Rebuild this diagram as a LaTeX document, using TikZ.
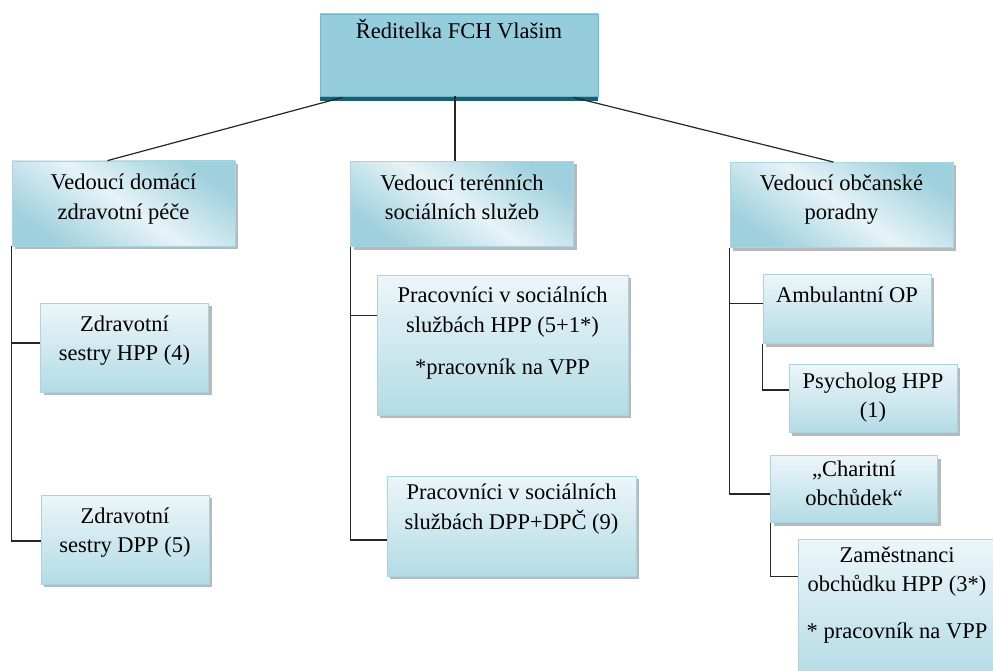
\documentclass[tikz,border=0pt]{standalone}
\usepackage{fontspec}
\setmainfont{Liberation Serif}
\usetikzlibrary{shadows}
\definecolor{hdark}{HTML}{9FD0DD}
\definecolor{hlight}{HTML}{E6F3F7}
\definecolor{hbord}{HTML}{A8D5E0}
\definecolor{stop}{HTML}{ECF6F9}
\definecolor{sbot}{HTML}{B3DBE5}
\definecolor{sbord}{HTML}{A8D5E0}
\definecolor{ttop}{HTML}{96CDDC}
\definecolor{tmid}{HTML}{3FA2C0}
\definecolor{tbord}{HTML}{6ABBD0}
\definecolor{tstrip}{HTML}{215E6C}
\newcommand\fsz{\fontsize{22.5}{29.5}\selectfont}
\newcommand\dn[1]{\rule[\dimexpr-8.85pt-#1pt\relax]{0pt}{1pt}}
\tikzset{
  boxbase/.style={inner sep=0pt, align=center, font=\fsz, text=black,
    drop shadow={shadow xshift=3pt, shadow yshift=-3pt, fill=black!50, opacity=0.55}},
  head/.style={boxbase, draw=hbord, line width=0.8pt, top color=hdark, bottom color=hdark,
    middle color=hlight, shading angle=-35, minimum width=223pt, minimum height=85pt},
  sub/.style={boxbase, draw=sbord, line width=0.8pt, top color=stop, bottom color=sbot},
  topbox/.style={inner sep=0pt, align=center, font=\fsz, text=black, draw=tbord, line width=0.8pt,
    top color=ttop, middle color=tmid, bottom color=ttop, minimum width=278pt, minimum height=82pt},
  conn/.style={draw=black!85, line width=1.2pt}
}
\begin{document}
\begin{tikzpicture}[x=1pt, y=-1pt]
\clip (0,0) rectangle (993,671);
\fill[white] (0,0) rectangle (993,671);
% top
\fill[tstrip] (320,93) rectangle (598,101);
\node[topbox] (t) at (459,55) {\strut Ředitelka FCH Vlašim\dn{44}};
% heads
\node[head] (l1) at (123.5,203.5) {\strut Vedoucí domácí\\zdravotní péče\dn{10}};
\node[head] (m1) at (462,204) {\strut Vedoucí terénních\\sociálních služeb\dn{10}};
\node[head] (r1) at (841.5,205) {\strut Vedoucí občanské\\poradny\dn{12}};
% left column
\node[sub, minimum width=168pt, minimum height=89pt] (l2) at (124.5,347.5) {\strut Zdravotní\\sestry HPP (4)\dn{15}};
\node[sub, minimum width=168pt, minimum height=89pt] (l3) at (125,539.5) {\strut Zdravotní\\sestry DPP (5)\dn{15}};
% middle column
\node[sub, minimum width=251pt, minimum height=140pt] (m2) at (502.5,345) {\strut Pracovníci v sociálních\\službách HPP (5+1*)\\[13pt]*pracovník na VPP\dn{24}};
\node[sub, minimum width=249pt, minimum height=100pt] (m3) at (511.5,526) {\strut Pracovníci v sociálních\\službách DPP+DPČ (9)\dn{35}};
% right column
\node[sub, minimum width=168pt, minimum height=69pt] (r2) at (847,309) {\strut Ambulantní OP\dn{25}};
\node[sub, minimum width=168pt, minimum height=68pt] (r3) at (873,398.5) {\strut Psycholog HPP\\(1)\dn{3}};
\node[sub, minimum width=167pt, minimum height=66pt] (r4) at (854,489) {\strut „Charitní\\obchůdek“\dn{8}};
\node[sub, minimum width=198pt, minimum height=142pt] (r5) at (897,610) {\strut Zaměstnanci\\obchůdku HPP (3*)\\[17pt]* pracovník na VPP\dn{31}};
% connectors from top
\draw[conn] ([xshift=23pt,yshift=-1pt]t.south west) -- ([xshift=-16pt]l1.north);
\draw[conn] ([xshift=-4pt]t.south) -- ([xshift=-4pt]t.south |- m1.north);
\draw[conn] ([xshift=-25pt,yshift=-1pt]t.south east) -- ([xshift=-8pt]r1.north);
% left
\draw[conn] (l1.south west) |- ([yshift=4.5pt]l2.west);
\draw[conn] (l1.south west) |- ([yshift=-1.5pt]l3.west);
% middle
\draw[conn] (m1.south west) |- ([yshift=29.5pt]m2.west);
\draw[conn] (m1.south west) |- ([yshift=-14pt]m3.west);
% right
\draw[conn] (r1.south west) |- ([yshift=5.5pt]r2.west);
\draw[conn] (r1.south west) |- ([yshift=-5pt]r4.west);
\draw[conn] (r2.south west) |- ([yshift=8.5pt]r3.west);
\draw[conn] (r4.south west) |- ([yshift=-38pt]r5.north west);
\end{tikzpicture}
\end{document}
